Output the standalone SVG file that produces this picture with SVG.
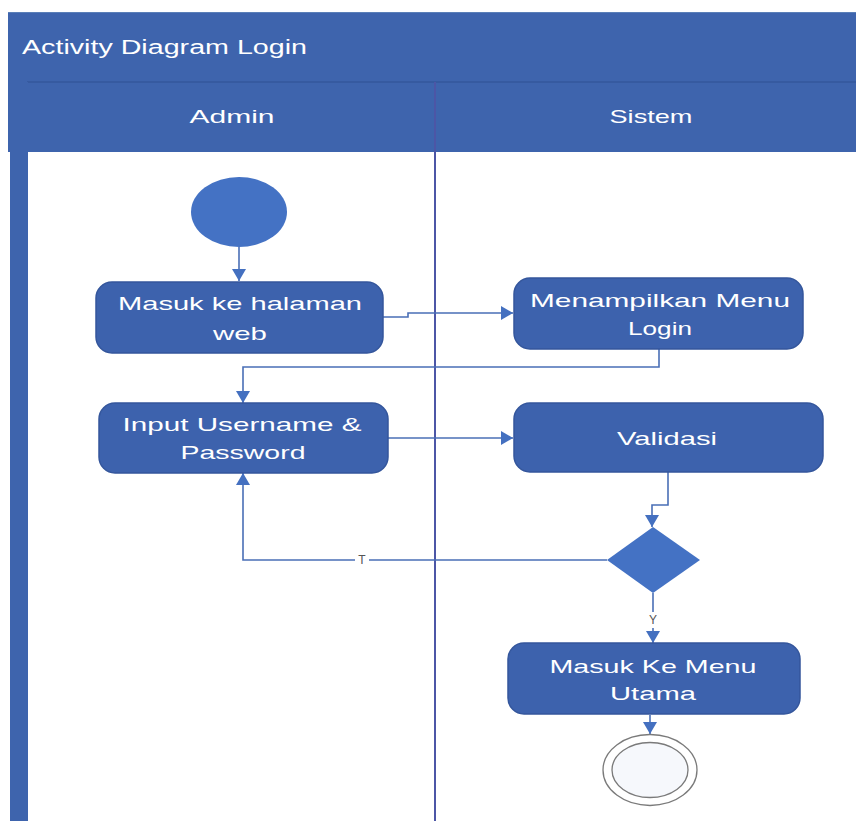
<svg xmlns="http://www.w3.org/2000/svg" width="856" height="831" viewBox="0 0 856 831">
  <style>
    .lbl { font-family: "Liberation Sans", Arial, sans-serif; font-size: 19px; fill: #ffffff; text-anchor: middle; dominant-baseline: central; }
    .act { fill: #3d62ad; stroke: #34569c; stroke-width: 1.5; }
    .flow { fill: none; stroke: #4a6fb6; stroke-width: 1.6; }
    .guard { font-family: "Liberation Sans", Arial, sans-serif; font-size: 12px; fill: #555555; text-anchor: middle; dominant-baseline: central; }
  </style>
  <defs>
    <marker id="arrow" viewBox="0 0 12 14" refX="12" refY="7" markerWidth="12" markerHeight="14" markerUnits="userSpaceOnUse" orient="auto">
      <path d="M0,0 L12,7 L0,14 Z" fill="#4470c0"/>
    </marker>
  </defs>

  <rect width="856" height="831" fill="#ffffff"/>

  <!-- swimlane frame -->
  <g id="frame">
    <rect x="8" y="12" width="848" height="140" fill="#3e64ad"/>
    <line x1="8" y1="12.5" x2="856" y2="12.5" stroke="#5a7fb8" stroke-width="1"/>
    <line x1="27" y1="82" x2="856" y2="82" stroke="#34579c" stroke-width="1.5"/>
    <rect x="10" y="82" width="18" height="739" fill="#3e64ad"/>
    <line x1="435" y1="82" x2="435" y2="821" stroke="#4c56a6" stroke-width="2"/>
    <text x="22" y="47" font-family="Liberation Sans, Arial, sans-serif" font-size="20" fill="#ffffff" dominant-baseline="central" textLength="285" lengthAdjust="spacingAndGlyphs">Activity Diagram Login</text>
    <text class="lbl" x="232" y="116" textLength="85" lengthAdjust="spacingAndGlyphs">Admin</text>
    <text class="lbl" x="651" y="116" textLength="83" lengthAdjust="spacingAndGlyphs">Sistem</text>
  </g>

  <!-- connectors -->
  <g id="connectors">
    <line class="flow" x1="239" y1="247" x2="239" y2="281" marker-end="url(#arrow)"/>
    <polyline class="flow" points="383,317 408,317 408,313 513,313" marker-end="url(#arrow)"/>
    <polyline class="flow" points="659,349 659,367 243,367 243,403" marker-end="url(#arrow)"/>
    <line class="flow" x1="388" y1="438" x2="513" y2="438" marker-end="url(#arrow)"/>
    <polyline class="flow" points="668,472 668,505 652,505 652,527" marker-end="url(#arrow)"/>
    <polyline class="flow" points="607,560 243,560 243,473" marker-end="url(#arrow)"/>
    <line class="flow" x1="653" y1="593" x2="653" y2="643" marker-end="url(#arrow)"/>
    <line class="flow" x1="650" y1="715" x2="650" y2="734" marker-end="url(#arrow)"/>
    <rect x="355" y="552" width="14" height="16" fill="#ffffff"/>
    <text class="guard" x="362" y="560">T</text>
    <rect x="646" y="612" width="14" height="16" fill="#ffffff"/>
    <text class="guard" x="653" y="620">Y</text>
  </g>

  <g id="start">
    <ellipse cx="239" cy="212" rx="48" ry="35" fill="#4472c4"/>
  </g>

  <g id="masuk-web">
    <rect class="act" x="96" y="282" width="287" height="71" rx="16"/>
    <text class="lbl" x="240" y="303" textLength="244" lengthAdjust="spacingAndGlyphs">Masuk ke halaman</text>
    <text class="lbl" x="240" y="333" textLength="54" lengthAdjust="spacingAndGlyphs">web</text>
  </g>

  <g id="menu-login">
    <rect class="act" x="514" y="278" width="289" height="71" rx="16"/>
    <text class="lbl" x="660" y="300" textLength="260" lengthAdjust="spacingAndGlyphs">Menampilkan Menu</text>
    <text class="lbl" x="660" y="328" textLength="64" lengthAdjust="spacingAndGlyphs">Login</text>
  </g>

  <g id="input-login">
    <rect class="act" x="99" y="403" width="289" height="70" rx="16"/>
    <text class="lbl" x="242" y="424" textLength="239" lengthAdjust="spacingAndGlyphs">Input Username &amp;</text>
    <text class="lbl" x="243" y="452" textLength="125" lengthAdjust="spacingAndGlyphs">Password</text>
  </g>

  <g id="validasi">
    <rect class="act" x="514" y="403" width="309" height="69" rx="16"/>
    <text class="lbl" x="667" y="438" textLength="100" lengthAdjust="spacingAndGlyphs">Validasi</text>
  </g>

  <g id="decision">
    <polygon points="653,527 700,560 653,593 607,560" fill="#4472c4"/>
  </g>

  <g id="menu-utama">
    <rect class="act" x="508" y="643" width="292" height="71" rx="16"/>
    <text class="lbl" x="653" y="666" textLength="207" lengthAdjust="spacingAndGlyphs">Masuk Ke Menu</text>
    <text class="lbl" x="653" y="693" textLength="86" lengthAdjust="spacingAndGlyphs">Utama</text>
  </g>

  <g id="end">
    <ellipse cx="650" cy="770" rx="47" ry="35.5" fill="#ffffff" stroke="#7a7a7a" stroke-width="1.3"/>
    <ellipse cx="650" cy="770" rx="38" ry="27.5" fill="#f6f8fc" stroke="#7a7a7a" stroke-width="1.3"/>
  </g>
</svg>
